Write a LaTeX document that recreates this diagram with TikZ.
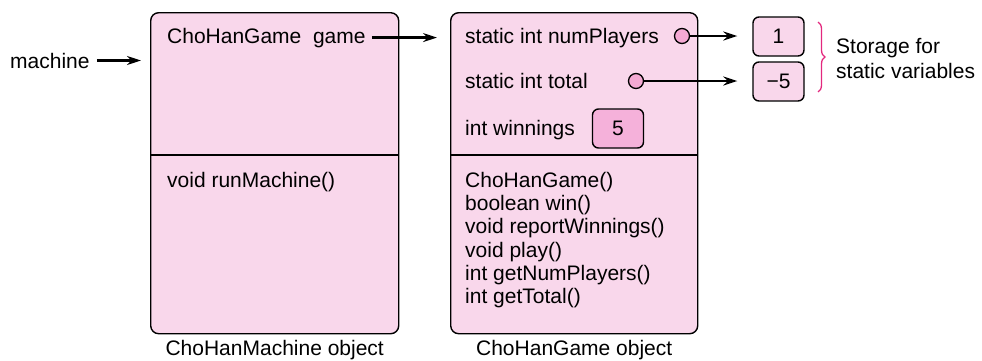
\documentclass[tikz,border=0pt]{standalone}
\usepackage{fontspec}
\setmainfont{Liberation Sans}
\usetikzlibrary{arrows.meta,positioning,calc,decorations.pathreplacing}
\definecolor{objfill}{HTML}{F9D7EB}
\definecolor{valfill}{HTML}{F5B1DA}
\definecolor{dotfill}{HTML}{F4A9D3}
\definecolor{brc}{HTML}{E3287E}
\tikzset{
  >={Stealth[length=14pt,width=9pt]},
  obj/.style={draw,rounded corners=8pt,line width=1.4pt,fill=objfill,minimum width=248pt,minimum height=321pt,anchor=north west,inner sep=0},
  txt/.style={anchor=base west,inner sep=0,font=\fontsize{21}{23}\selectfont},
  valbox/.style={draw,rounded corners=6pt,line width=1.4pt,fill=objfill,minimum width=51pt,minimum height=39pt,inner sep=0,font=\fontsize{21}{23}\selectfont},
  dot/.style={circle,draw,fill=dotfill,minimum size=15pt,inner sep=0,line width=1.3pt},
  arr/.style={->,line width=2.2pt},
}
\begin{document}
\begin{tikzpicture}[x=1pt,y=-1pt]
\useasboundingbox (0,0) rectangle (982,360);
% the two objects
\node[obj] (mach) at (150,12) {};
\node[obj,minimum width=247pt] (game) at (450,12) {};
\draw[line width=1.4pt] (mach.west |- 0,155) -- (mach.east |- 0,155);
\draw[line width=1.4pt] (game.west |- 0,155) -- (game.east |- 0,155);
\node[txt,anchor=north,below=6pt of mach] (machlab) {ChoHanMachine object};
\node[txt,anchor=north,below=6pt of game] (gamelab) {ChoHanGame object};
% reference into the machine
\node[txt] (machine) at (10,68) {machine};
\draw[arr] ([xshift=7pt]machine.east) -- ([xshift=-9pt]mach.west |- machine.east);
% ChoHanMachine fields and methods
\node[txt] (gameref) at (167,43) {ChoHanGame\ \ game};
\draw[arr] ([xshift=6pt]gameref.east) -- ([xshift=-13pt]game.west |- gameref.east);
\node[txt] (run) at (167,187) {void runMachine()};
% ChoHanGame fields
\node[txt] (np) at (465,43) {static int numPlayers};
\node[txt] (tot) at (465,88) {static int total};
\node[txt] (wn) at (465,135) {int winnings};
\node[valbox,fill=valfill] (win) at (618,128.5) {5};
\node[dot] (d1) at (682,36) {};
\node[dot] (d2) at (636,81) {};
\foreach \m [count=\i] in {ChoHanGame(),boolean win(),void reportWinnings(),void play(),int getNumPlayers(),int getTotal()}
  \node[txt] (m\i) at (465,164+23.3*\i) {\m};
% static storage
\node[valbox] (v1) at (778.5,36.5) {1};
\node[valbox] (v2) at (778.5,81.5) {−5};
\draw[arr] (d1.east) -- ([xshift=-15pt]d1.east -| v1.west);
\draw[arr] (d2.east) -- ([xshift=-15pt]d2.east -| v2.west);
\coordinate (b1) at (818,22);
\coordinate (b2) at (818,92);
\draw[brc,line width=1.3pt,decorate,decoration={brace,amplitude=7pt}] (b1) -- (b2);
\node[txt,anchor=west,align=left,font=\fontsize{21}{25}\selectfont] (store) at (836,58) {Storage for\\static variables};
\end{tikzpicture}
\end{document}
